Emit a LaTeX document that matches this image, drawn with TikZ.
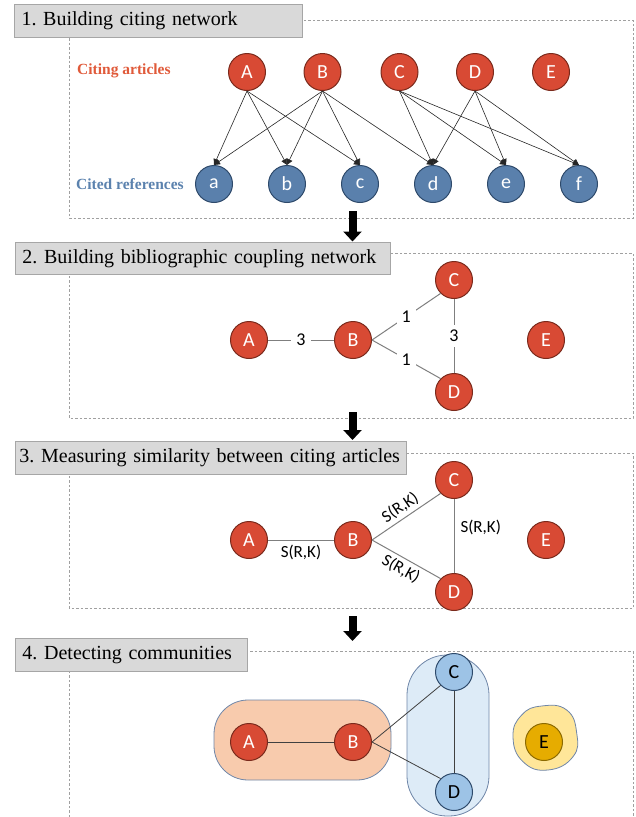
\documentclass[tikz,border=0pt]{standalone}
\usepackage{fontspec}
\setmainfont{Liberation Serif}
\newfontfamily\calibri{Carlito}
\usepackage{xcolor}
\usepackage{tikz}
\usetikzlibrary{shapes,arrows.meta,positioning}
\definecolor{redfill}{HTML}{D84A34}
\definecolor{redline}{HTML}{7A2A1C}
\definecolor{bluefill}{HTML}{5A80AC}
\definecolor{blueline}{HTML}{2E4A6B}
\definecolor{skyfill}{HTML}{9DC3E6}
\definecolor{goldfill}{HTML}{E6AC00}
\definecolor{goldline}{HTML}{8C6A00}
\definecolor{orangeblob}{HTML}{F8CBAD}
\definecolor{blueblob}{HTML}{DDEBF7}
\definecolor{yellowblob}{HTML}{FFE699}
\definecolor{groupline}{HTML}{6F86A8}
\definecolor{titlefill}{HTML}{D9D9D9}
\definecolor{titleline}{HTML}{A6A6A6}
\definecolor{panelline}{HTML}{A0A0A0}
\definecolor{linkgray}{HTML}{7F7F7F}
\definecolor{citered}{HTML}{E05A3A}
\definecolor{citeblue}{HTML}{5B82AE}
\frenchspacing

\begin{document}
\begin{tikzpicture}
  [
    x=1pt, y=-1pt,
    Title/.style={rectangle, draw=titleline, fill=titlefill, line width=1pt, anchor=north west, minimum height=32.5pt, inner xsep=7pt, inner ysep=0pt, align=left, font=\fontsize{20}{22}\selectfont},
    Panel/.style={draw=panelline, line width=0.7pt, dash pattern=on 2.5pt off 2pt},
    Red/.style={circle, draw=redline, fill=redfill, line width=1pt, minimum size=37pt, inner sep=0pt, text=white, font=\calibri\fontsize{20}{20}\selectfont},
    Blue/.style={circle, draw=blueline, fill=bluefill, line width=1pt, minimum size=37pt, inner sep=0pt, text=white, font=\calibri\fontsize{20}{20}\selectfont},
    Sky/.style={circle, draw=blueline, fill=skyfill, line width=1pt, minimum size=37pt, inner sep=0pt, text=black, font=\calibri\fontsize{20}{20}\selectfont},
    Gold/.style={circle, draw=goldline, fill=goldfill, line width=1pt, minimum size=37pt, inner sep=0pt, text=black, font=\calibri\fontsize{20}{20}\selectfont},
    Side/.style={anchor=west, inner sep=0pt, font=\bfseries\fontsize{15.5}{16}\selectfont},
    Cite/.style={draw=black!85, line width=0.6pt, -{Triangle[length=6pt, width=6pt]}},
    Link/.style={draw=linkgray, line width=1pt},
    Weight/.style={fill=white, inner sep=5pt, font=\calibri\fontsize{18}{18}\selectfont},
    Sim/.style={inner sep=2pt, font=\calibri\fontsize{17}{17}\selectfont},
    Down/.style={draw=black, line width=8pt, -{Triangle[length=10pt, width=18pt]}},
    Group/.style={draw=groupline, line width=0.8pt}
  ]
  \useasboundingbox (0,0) rectangle (636,817);
  % Panels
  \draw[Panel] (69,20) rectangle (633,218);
  \draw[Panel] (69,253.3) rectangle (633,418.3);
  \draw[Panel] (69,453.3) rectangle (633,608.3);
  \draw[Panel] (69,817) -- (69,651.7) -- (633,651.7) -- (633,817);
  % Titles
  \node[Title, text width=274pt] (t1) at (14,4) {1. Building citing network};
  \node[Title, text width=361pt] (t2) at (15,241.5) {2. Building bibliographic coupling network};
  \node[Title, inner xsep=4pt, text width=383pt] (t3) at (15,441) {3. Measuring similarity between citing articles};
  \node[Title, text width=218pt] (t4) at (15,638) {4. Detecting communities};
  % Steps
  \coordinate (s1) at (352.5,211);
  \coordinate (e1) at (352.5,241.5);
  \coordinate (s2) at (352.5,412);
  \coordinate (e2) at (352.5,440);
  \coordinate (s3) at (352.5,616);
  \coordinate (e3) at (352.5,641);
  \path [Down] (s1) -- (e1);
  \path [Down] (s2) -- (e2);
  \path [Down] (s3) -- (e3);

  % 1. Citing network
  \node[Side, text=citered] (citing) at (77,71) {Citing articles};
  \node[Side, text=citeblue] (cited) at (76,184) {Cited references};
  \node[Red] (A1) at (247,72) {A};
  \node[Red] (B1) at (322.5,72) {B};
  \node[Red] (C1) at (399.5,72) {C};
  \node[Red] (D1) at (475,72) {D};
  \node[Red] (E1) at (551,72) {E};
  \node[Blue] (a) at (214,184) {a};
  \node[Blue] (b) at (287,184) {b};
  \node[Blue] (c) at (360,184) {c};
  \node[Blue] (d) at (433,184) {d};
  \node[Blue] (e) at (506,184) {e};
  \node[Blue] (f) at (579,184) {f};
  \path [Cite] (A1.south) -- (a.north);
  \path [Cite] (A1.south) -- (b.north);
  \path [Cite] (A1.south) -- (c.north);
  \path [Cite] (B1.south) -- (a.north);
  \path [Cite] (B1.south) -- (b.north);
  \path [Cite] (B1.south) -- (c.north);
  \path [Cite] (B1.south) -- (d.north);
  \path [Cite] (C1.south) -- (d.north);
  \path [Cite] (C1.south) -- (e.north);
  \path [Cite] (C1.south) -- (f.north);
  \path [Cite] (D1.south) -- (d.north);
  \path [Cite] (D1.south) -- (e.north);
  \path [Cite] (D1.south) -- (f.north);

  % 2. Coupling network
  \node[Red] (A2) at (249,340) {A};
  \node[Red] (B2) at (353,340) {B};
  \node[Red] (C2) at (454,280) {C};
  \node[Red] (D2) at (454,392) {D};
  \node[Red] (E2) at (546,340) {E};
  \path [Link] (A2.east) -- node[Weight] {3} (B2.west);
  \path [Link] (B2.east) -- node[Weight] {1} (C2.south west);
  \path [Link] (B2.east) -- node[Weight] {1} (D2.north west);
  \path [Link] (C2.south) -- node[Weight] {3} (D2.north);

  % 3. Similarity
  \node[Red] (A3) at (249,540) {A};
  \node[Red] (B3) at (353,540) {B};
  \node[Red] (C3) at (454,480) {C};
  \node[Red] (D3) at (454,592) {D};
  \node[Red] (E3) at (546,540) {E};
  \path [Link] (A3.east) -- node[Sim, below=3pt] {S(R,K)} (B3.west);
  \path [Link] (B3.east) -- node[Sim, sloped, above=1pt] {S(R,K)} (C3.south west);
  \path [Link] (B3.east) -- node[Sim, sloped, below=1pt] {S(R,K)} (D3.north west);
  \path [Link] (C3.south) -- node[Sim, right=4pt, yshift=9pt] {S(R,K)} (D3.north);

  % 4. Communities
  \draw[Group, fill=orangeblob, rounded corners=34pt] (214,700) rectangle (391,780);
  \draw[Group, fill=blueblob, rounded corners=40pt] (407,655) rectangle (489,816);
  \draw[Group, fill=yellowblob] plot[smooth cycle, tension=0.8] coordinates {(541.7,706) (566.7,710) (576.7,733) (573,756.7) (548,770) (523,761.7) (513,736.7) (521.7,715)};
  \node[Red] (A4) at (249,742) {A};
  \node[Red] (B4) at (353,742) {B};
  \node[Sky] (C4) at (454,672) {C};
  \node[Sky] (D4) at (454,792) {D};
  \node[Gold] (E4) at (544,742) {E};
  \path [draw=black!75, line width=0.8pt] (A4.east) -- (B4.west);
  \path [draw=black!75, line width=0.8pt] (B4.east) -- (C4.south west);
  \path [draw=black!75, line width=0.8pt] (B4.east) -- (D4.north west);
  \path [draw=black!75, line width=0.8pt] (C4.south) -- (D4.north);
\end{tikzpicture}
\end{document}
